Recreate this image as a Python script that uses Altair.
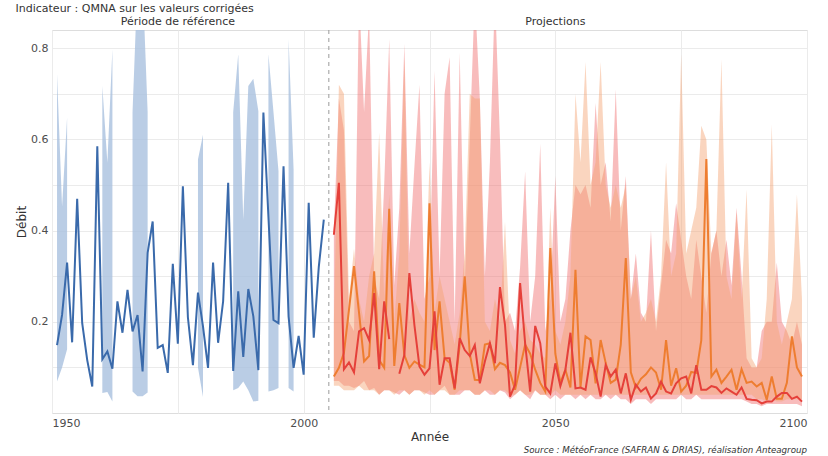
import altair as alt
import pandas as pd

# ---- Reference period (observed) ----
hist_years = list(range(1951, 2005))
hist_flow = [
    0.149, 0.215, 0.330, 0.155, 0.470, 0.197, 0.116, 0.058, 0.585, 0.118,
    0.135, 0.097, 0.245, 0.176, 0.270, 0.179, 0.215, 0.091, 0.351, 0.420,
    0.143, 0.149, 0.088, 0.327, 0.152, 0.497, 0.210, 0.105, 0.264, 0.190,
    0.099, 0.330, 0.154, 0.245, 0.505, 0.092, 0.267, 0.123, 0.272, 0.212,
    0.094, 0.659, 0.430, 0.204, 0.197, 0.541, 0.212, 0.099, 0.169, 0.084,
    0.461, 0.165, 0.320, 0.424,
]
hist_low = [
    0.069, 0.100, 0.140, None, None, None, None, None, None, 0.044,
    0.046, 0.025, None, None, None, 0.047, 0.037, 0.037, 0.045, None,
    None, None, None, None, None, None, None, None, 0.100, 0.035,
    None, None, None, None, None, 0.050, 0.055, 0.069, 0.050, 0.025,
    0.027, None, 0.047, 0.050, 0.055, None, 0.055, 0.047, None, None,
    None, None, None, None,
]
hist_high = [
    0.743, 0.453, 0.648, None, None, None, None, None, None, 0.717,
    0.549, 0.798, None, None, None, 0.660, 0.950, 0.950, 0.660, None,
    None, None, None, None, None, None, None, None, 0.556, 0.610,
    None, None, None, None, None, 0.660, 0.787, 0.424, 0.717, 0.733,
    0.662, None, 0.787, 0.660, 0.530, None, 0.820, 0.534, None, None,
    None, None, None, None,
]

# ---- Projections, two scenarios ----
proj_years = list(range(2006, 2100))
red_flow = [
    0.391, 0.505, 0.096, 0.111, 0.089, 0.179, 0.186, 0.160, 0.263, 0.096,
    0.245, 0.162, None, 0.086, 0.127, 0.307, 0.193, 0.102, 0.084, 0.098,
    0.223, 0.062, 0.120, 0.120, 0.054, 0.164, 0.138, 0.125, 0.149, 0.065,
    0.113, 0.153, 0.109, 0.276, 0.193, 0.036, 0.062, 0.285, 0.153, 0.047,
    0.191, 0.153, 0.058, 0.043, 0.109, 0.059, 0.095, 0.176, 0.054, 0.056,
    0.051, 0.122, 0.087, 0.036, 0.105, 0.080, 0.095, 0.043, 0.087, 0.029,
    0.062, 0.047, 0.056, 0.032, 0.043, 0.069, 0.047, 0.043, 0.065, 0.076,
    0.080, 0.043, 0.105, 0.051, 0.051, 0.059, 0.056, 0.044, 0.054, 0.047,
    0.040, 0.056, 0.031, 0.029, 0.028, 0.021, 0.025, 0.025, 0.036, 0.044,
    0.044, 0.031, 0.036, 0.025,
]
red_low = [
    0.070, 0.070, 0.060, 0.060, 0.055, 0.060, 0.070, 0.050, 0.055, 0.040,
    0.050, 0.050, 0.045, 0.040, 0.050, 0.040, 0.050, 0.050, 0.045, 0.040,
    0.040, 0.050, 0.060, 0.040, 0.040, 0.040, 0.050, 0.050, 0.040, 0.040,
    0.050, 0.040, 0.040, 0.050, 0.045, 0.030, 0.040, 0.050, 0.040, 0.030,
    0.050, 0.040, 0.040, 0.030, 0.040, 0.030, 0.040, 0.040, 0.030, 0.040,
    0.030, 0.040, 0.030, 0.030, 0.040, 0.030, 0.040, 0.030, 0.030, 0.020,
    0.030, 0.030, 0.030, 0.020, 0.030, 0.030, 0.030, 0.030, 0.030, 0.040,
    0.030, 0.030, 0.040, 0.030, 0.030, 0.030, 0.030, 0.030, 0.030, 0.030,
    0.030, 0.030, 0.025, 0.020, 0.020, 0.015, 0.020, 0.020, 0.020, 0.020,
    0.020, 0.020, 0.020, 0.015,
]
red_high = [
    0.400, 0.690, 0.620, 0.200, 0.180, 0.920, 0.660, 0.880, 0.300, 0.250,
    0.500, 0.820, 0.280, 0.450, 0.810, 0.350, 0.540, 0.720, 0.250, 0.300,
    0.750, 0.300, 0.700, 0.780, 0.200, 0.790, 0.280, 0.600, 0.920, 0.690,
    0.300, 0.550, 0.920, 0.600, 0.200, 0.220, 0.180, 0.320, 0.530, 0.200,
    0.300, 0.590, 0.180, 0.250, 0.520, 0.200, 0.250, 0.400, 0.500, 0.480,
    0.500, 0.450, 0.680, 0.500, 0.550, 0.420, 0.710, 0.400, 0.520, 0.250,
    0.350, 0.220, 0.200, 0.400, 0.180, 0.280, 0.380, 0.350, 0.460, 0.380,
    0.300, 0.250, 0.380, 0.300, 0.220, 0.350, 0.400, 0.300, 0.380, 0.280,
    0.450, 0.300, 0.120, 0.100, 0.100, 0.180, 0.200, 0.200, 0.330, 0.200,
    0.180, 0.150, 0.200, 0.150,
]
orange_flow = [
    0.080, 0.099, 0.132, 0.226, 0.322, 0.220, 0.113, 0.125, 0.311, 0.116,
    0.099, 0.448, 0.103, 0.241, 0.127, 0.099, 0.113, 0.106, 0.100, 0.460,
    0.138, 0.245, 0.120, 0.110, 0.051, 0.150, 0.300, 0.130, 0.073, 0.072,
    0.150, 0.153, 0.096, 0.110, 0.105, 0.089, 0.051, 0.100, 0.150, 0.130,
    0.095, 0.066, 0.047, 0.362, 0.130, 0.066, 0.095, 0.056, 0.314, 0.056,
    0.168, 0.160, 0.065, 0.160, 0.110, 0.066, 0.073, 0.150, 0.340, 0.089,
    0.056, 0.075, 0.085, 0.100, 0.089, 0.051, 0.160, 0.060, 0.098, 0.047,
    0.060, 0.090, 0.088, 0.160, 0.557, 0.080, 0.095, 0.066, 0.080, 0.095,
    0.051, 0.096, 0.066, 0.069, 0.058, 0.066, 0.029, 0.080, 0.031, 0.031,
    0.066, 0.168, 0.100, 0.080,
]
orange_low = [
    0.060, 0.060, 0.050, 0.050, 0.050, 0.060, 0.050, 0.050, 0.050, 0.040,
    0.050, 0.050, 0.040, 0.050, 0.050, 0.040, 0.050, 0.050, 0.040, 0.050,
    0.040, 0.050, 0.050, 0.040, 0.040, 0.050, 0.050, 0.050, 0.040, 0.040,
    0.050, 0.050, 0.040, 0.050, 0.050, 0.040, 0.040, 0.050, 0.040, 0.040,
    0.050, 0.040, 0.040, 0.040, 0.050, 0.040, 0.040, 0.040, 0.040, 0.040,
    0.040, 0.040, 0.040, 0.040, 0.040, 0.040, 0.040, 0.040, 0.040, 0.040,
    0.040, 0.040, 0.040, 0.040, 0.040, 0.040, 0.040, 0.040, 0.040, 0.040,
    0.040, 0.040, 0.040, 0.040, 0.040, 0.040, 0.040, 0.040, 0.040, 0.040,
    0.040, 0.040, 0.040, 0.040, 0.030, 0.030, 0.025, 0.030, 0.025, 0.025,
    0.030, 0.030, 0.030, 0.030,
]
orange_high = [
    0.200, 0.720, 0.700, 0.250, 0.360, 0.250, 0.200, 0.300, 0.350, 0.615,
    0.250, 0.480, 0.200, 0.350, 0.780, 0.200, 0.250, 0.220, 0.200, 0.550,
    0.220, 0.300, 0.250, 0.200, 0.150, 0.220, 0.350, 0.700, 0.690, 0.690,
    0.200, 0.180, 0.250, 0.200, 0.420, 0.160, 0.130, 0.180, 0.200, 0.160,
    0.150, 0.130, 0.120, 0.450, 0.180, 0.150, 0.200, 0.300, 0.700, 0.550,
    0.770, 0.500, 0.550, 0.770, 0.500, 0.450, 0.500, 0.450, 0.500, 0.250,
    0.300, 0.200, 0.220, 0.250, 0.200, 0.300, 0.550, 0.300, 0.350, 0.787,
    0.350, 0.400, 0.450, 0.630, 0.600, 0.350, 0.400, 0.776, 0.300, 0.250,
    0.440, 0.250, 0.490, 0.120, 0.100, 0.120, 0.250, 0.633, 0.200, 0.150,
    0.200, 0.250, 0.480, 0.250,
]

# ---- Text ----
indicator_title = "Indicateur : QMNA sur les valeurs corrigées"
period_labels = ["Période de référence", "Projections"]
period_centres = [1975, 2050]
split_year = 2005
source_text = "Source : MétéoFrance (SAFRAN & DRIAS), réalisation Anteagroup"

FONT = "DejaVu Sans"
TEXT_COL = "#333333"

hist = pd.DataFrame({"year": hist_years, "flow": hist_flow,
                     "low": hist_low, "high": hist_high})
proj_red = pd.DataFrame({"year": proj_years, "flow": red_flow,
                         "low": red_low, "high": red_high})
proj_orange = pd.DataFrame({"year": proj_years, "flow": orange_flow,
                            "low": orange_low, "high": orange_high})

x_ticks = [1950, 1975, 2000, 2025, 2050, 2075, 2100]
y_ticks = [0.1, 0.2, 0.3, 0.4, 0.5, 0.6, 0.7, 0.8]

x_enc = alt.X(
    "year:Q",
    scale=alt.Scale(domain=[1950, 2100], nice=False, zero=False),
    axis=alt.Axis(
        values=x_ticks, format="d",
        labelExpr="datum.value % 50 === 0 ? datum.label : ''",
        title="Année", ticks=False, domain=False,
        gridColor="#ebebeb", gridWidth=1,
        labelColor="#4d4d4d", labelFontSize=11, labelFont=FONT, labelPadding=4,
        titleFont=FONT, titleFontSize=12, titleFontWeight="normal",
        titleColor=TEXT_COL, titlePadding=3,
    ),
)
y_scale = alt.Scale(domain=[0, 0.84], nice=False, zero=False)
y_axis = alt.Axis(
    values=y_ticks,
    labelExpr="indexof(['0.2','0.4','0.6','0.8'], format(datum.value, '.1f')) >= 0 ? format(datum.value, '.1f') : ''",
    title="Débit", ticks=False, domain=False,
    gridColor="#ebebeb", gridWidth=1,
    labelColor="#4d4d4d", labelFontSize=11, labelFont=FONT, labelPadding=4,
    titleFont=FONT, titleFontSize=12, titleFontWeight="normal",
    titleColor=TEXT_COL, titlePadding=2,
)


def band(df, colour, opacity):
    return alt.Chart(df).mark_area(
        color=colour, opacity=opacity, clip=True,
        invalid="break-paths-show-domains",
    ).encode(
        x=x_enc,
        y=alt.Y("high:Q", scale=y_scale, axis=y_axis),
        y2="low:Q",
    )


def curve(df, colour):
    return alt.Chart(df).mark_line(
        color=colour, strokeWidth=2, clip=True,
        invalid="break-paths-show-domains",
    ).encode(
        x=x_enc,
        y=alt.Y("flow:Q", scale=y_scale, axis=y_axis),
    )


split = alt.Chart(pd.DataFrame({"year": [split_year]})).mark_rule(
    color="#9a9a9a", strokeDash=[4, 4], strokeWidth=1
).encode(x=x_enc)

labels = alt.Chart(pd.DataFrame({
    "year": period_centres, "label": period_labels, "pos": [0.857, 0.857]
})).mark_text(font=FONT, fontSize=11, color=TEXT_COL, baseline="middle").encode(
    x=x_enc, y=alt.Y("pos:Q", scale=y_scale, axis=y_axis), text="label:N"
)

source = alt.Chart(pd.DataFrame({
    "year": [2100], "pos": [-0.081], "label": [source_text]
})).mark_text(font=FONT, fontSize=8.7, fontStyle="italic", color=TEXT_COL,
              align="right", baseline="middle").encode(
    x=x_enc, y=alt.Y("pos:Q", scale=y_scale, axis=y_axis), text="label:N"
)

chart = alt.layer(
    split,
    band(hist, "#a9c1df", 0.8),
    band(proj_red, "#ef6b6b", 0.45),
    band(proj_orange, "#f4a270", 0.45),
    curve(hist, "#3a6aab"),
    curve(proj_orange, "#ee7d30"),
    curve(proj_red, "#e5403a"),
    labels,
    source,
).properties(
    width=755, height=383,
    title=alt.TitleParams(indicator_title, anchor="start", font=FONT,
                          fontSize=11, fontWeight="normal", color=TEXT_COL,
                          dx=0, offset=2),
    padding={"left": 52, "top": 30, "right": 21, "bottom": 43},
    autosize=alt.AutoSizeParams(type="none"),
).configure_view(stroke=None).configure(background="white")

chart.save("out.html", embed_options={"renderer": "svg", "actions": False})
